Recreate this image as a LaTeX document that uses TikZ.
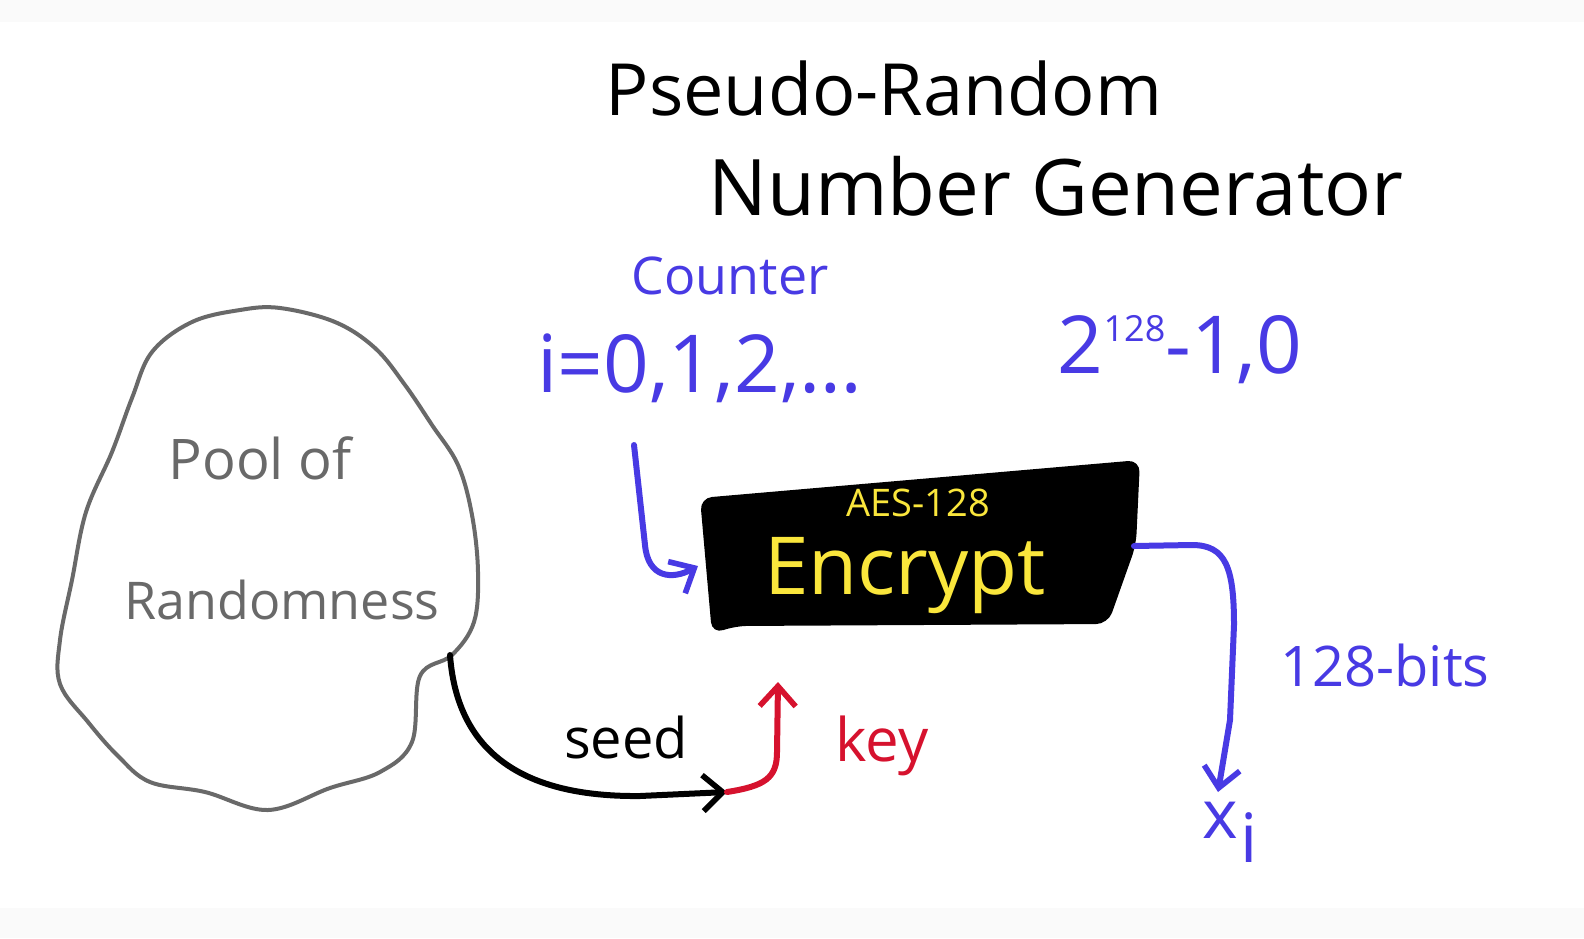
\documentclass[tikz,border=0pt]{standalone}
\usepackage{fontspec}
\setmainfont{Open Sans}
\usetikzlibrary{
  arrows.meta,
  positioning,
}
\definecolor{penblue}{RGB}{72,58,228}
\definecolor{penred}{RGB}{214,18,46}
\definecolor{penyellow}{RGB}{250,230,60}
\definecolor{pengray}{RGB}{105,105,105}
\tikzset{
  >={Straight Barb[length=10pt,width=18pt,line width=2.8pt]},
  pen/.style={line width=3pt,line cap=round,line join=round},
  txt/.style={inner sep=0pt,font=\fontsize{#1}{#1}\selectfont},
}

\begin{document}
\begin{tikzpicture}[x=0.5pt,y=-0.5pt]

        % page
        \fill[gray!4] (0,0) rectangle (1584,938);
        \fill[white] (0,22) rectangle (1584,908);
        \useasboundingbox (0,0) rectangle (1584,938);

        % title
        \node[txt=36] (title1) at (884,88)  {Pseudo-Random};
        \node[txt=39] (title2) at (1056,186) {Number Generator};

        % counter
        \node[txt=26,text=penblue] (ctr) at (730,276) {Counter};
        \node[txt=40,text=penblue] (idx) at (700,368) {i=0,1,2,\dots};
        \node[txt=40,text=penblue] (wrap) at (1180,350) {2\raisebox{16pt}{\fontsize{18}{18}\selectfont 128}-1,0};

        % pool of randomness
        \draw[pengray,line width=2pt] plot[smooth cycle,tension=0.6] coordinates {
          (280,308) (335,322) (375,348) (405,385) (432,425) (458,465) (472,515)
          (478,572) (474,622) (452,655) (420,676) (412,742) (380,772) (330,788)
          (268,810) (205,792) (150,782) (118,756) (88,722) (60,684) (60,640)
          (72,580) (86,512) (112,452) (132,398) (152,352) (192,322) (240,310)};
        \node[txt=28,text=pengray] (pool1) at (260,458) {Pool of};
        \node[txt=26,text=pengray] (pool2) at (282,600) {Randomness};
        \coordinate (poolout) at (450,655);

        % AES block
        \fill[black,rounded corners=6pt] (700,498) -- (1140,460) -- (1136,545)
          -- (1108,624) -- (735,626) -- (712,634) -- cycle;
        \coordinate (encW) at (698,566);
        \coordinate (encE) at (1134,546);
        \coordinate (encS) at (778,682);
        \node[txt=19,text=penyellow] (aes) at (918,503) {AES-128};
        \node[txt=40,text=penyellow] (enc) at (905,576) {Encrypt};

        % seed and key
        \coordinate (ctrfoot) at (634,445);
        \coordinate (seedend) at (727,792);
        \draw[pen,->] (poolout) .. controls (458,765) and (540,797) .. (640,796) -- (seedend);
        \node[txt=28] (seed) at (626,737) {seed};
        \draw[pen,penred,->] (seedend) .. controls (765,786) and (777,778) .. (777,752) -- (encS);
        \node[txt=30,text=penred] (key) at (882,746) {key};

        % counter in, output out
        \draw[pen,penblue,->] (ctrfoot) -- (645,545) .. controls (648,578) and (672,580) .. (encW);
        \coordinate (xout) at (1218,792);
        \draw[pen,penblue,->] (encE) -- (1192,545) .. controls (1226,545) and (1234,568) .. (1234,625)
          -- (1230,720) -- (xout);
        \node[txt=28,text=penblue] (bits) at (1385,665) {128-bits};
        \node[txt=34,text=penblue] (xi) at (1230,832) {x\kern1pt\raisebox{-12pt}{i}};

      \end{tikzpicture}
\end{document}
